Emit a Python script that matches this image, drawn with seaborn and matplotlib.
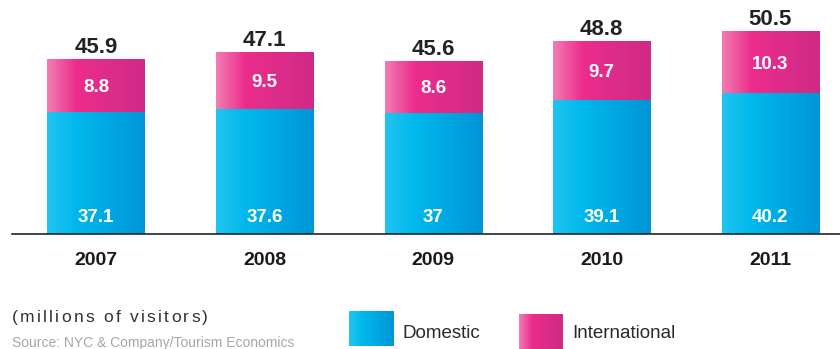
import numpy as np
import pandas as pd
import matplotlib
matplotlib.use("Agg")
import matplotlib.pyplot as plt
import seaborn as sns
from matplotlib.colors import LinearSegmentedColormap
from matplotlib.textpath import TextToPath
from matplotlib.font_manager import FontProperties

# ---- data ----
years = ["2007", "2008", "2009", "2010", "2011"]
domestic = [37.1, 37.6, 37.0, 39.1, 40.2]
international = [8.8, 9.5, 8.6, 9.7, 10.3]
totals = [45.9, 47.1, 45.6, 48.8, 50.5]
domestic_labels = ["37.1", "37.6", "37", "39.1", "40.2"]
international_labels = ["8.8", "9.5", "8.6", "9.7", "10.3"]
total_labels = ["45.9", "47.1", "45.6", "48.8", "50.5"]
series_names = ["Domestic", "International"]

sns.set_theme(style="white")
plt.rcParams["font.family"] = ["Liberation Sans", "DejaVu Sans"]

df = pd.DataFrame({"year": years, "domestic": domestic,
                   "international": international, "total": totals})

W, H = 840, 349
fig = plt.figure(figsize=(W / 100, H / 100), dpi=100)
ax = fig.add_axes([12 / W, (H - 233.5) / H, 828 / W, 233.5 / H])

bw = 0.576
sns.barplot(data=df, x="year", y="total", color="#ec2d8c", width=bw, ax=ax,
            saturation=1, errorbar=None, linewidth=0, edgecolor="none")
sns.barplot(data=df, x="year", y="domestic", color="#00b4ea", width=bw, ax=ax,
            saturation=1, errorbar=None, linewidth=0, edgecolor="none")

blue = LinearSegmentedColormap.from_list(
    "b", [(0, "#22c4f0"), (0.3, "#00b8ec"), (1, "#0095d7")])
pink = LinearSegmentedColormap.from_list(
    "p", [(0, "#f27db3"), (0.3, "#ec2d8c"), (1, "#cf2a86")])
grad = np.linspace(0, 1, 256).reshape(1, -1)

ylo, yhi = 17, 55.64
xlo, xhi = -0.4985, 4.415
patches = list(ax.patches)
for i, p in enumerate(patches):
    layer = 0 if i < 5 else 1
    cmap = pink if layer == 0 else blue
    p.set_zorder(1 + layer * 2)
    x0, w, y0, h = p.get_x(), p.get_width(), p.get_y(), p.get_height()
    im = ax.imshow(grad, cmap=cmap,
                   extent=[x0, x0 + w, max(y0, ylo), y0 + h],
                   aspect="auto", origin="lower", zorder=1.5 + layer * 2,
                   interpolation="bilinear")
    im.set_clip_path(p)

ax.set_xlim(xlo, xhi)
ax.set_ylim(ylo, yhi)

# labels
for i in range(len(years)):
    ax.annotate(total_labels[i], xy=(i, totals[i]), xytext=(0, 4.3),
                textcoords="offset points", ha="center", va="baseline",
                fontsize=16, fontweight="bold", color="#222222", zorder=6)
    ax.annotate(international_labels[i],
                xy=(i, domestic[i] + international[i] / 2), xytext=(0, -4.8),
                textcoords="offset points", ha="center", va="baseline",
                fontsize=13.5, fontweight="bold", color="white", zorder=6)
    ax.annotate(domestic_labels[i], xy=(i, 0), xycoords=ax.get_xaxis_transform(),
                xytext=(0, 8.3), textcoords="offset points", ha="center",
                va="baseline", fontsize=13.5, fontweight="bold", color="white",
                zorder=6)

ax.set_xlabel("")
ax.set_ylabel("")
ax.set_yticks([])
ax.set_xticks(range(len(years)))
ax.set_xticklabels(years, fontsize=14, fontweight="bold", color="#1a1a1a")
ax.tick_params(axis="x", length=0, pad=13.3)
for s in ["top", "left", "right"]:
    ax.spines[s].set_visible(False)
ax.spines["bottom"].set_color("#111111")
ax.spines["bottom"].set_linewidth(1.1)
ax.spines["bottom"].set_zorder(7)
ax.patch.set_alpha(0)


def spaced_text(x_px, y_px, s, size, spacing_px, **kw):
    prop = FontProperties(family="Liberation Sans", size=size)
    t2p = TextToPath()
    for k, ch in enumerate(s):
        if k == 0:
            adv = 0.0
        else:
            adv = t2p.get_text_width_height_descent(s[:k], prop, ismath=False)[0]
            adv = adv * 100 / 72
        fig.text((x_px + adv + k * spacing_px) / W, 1 - y_px / H, ch,
                 fontsize=size, va="baseline", ha="left",
                 family="Liberation Sans", **kw)


spaced_text(12, 322, "(millions of visitors)", 12.5, 2.3, color="#333333")
fig.text(12 / W, 1 - 347.5 / H, "Source: NYC & Company/Tourism Economics",
         fontsize=10, color="#a6a6a6", va="baseline", ha="left")

# legend swatches
for (x0, y0, x1, y1), cmap, name, tx in [((349, 311, 394, 346), blue, series_names[0], 403),
                                         ((519, 314, 563, 349), pink, series_names[1], 572)]:
    lax = fig.add_axes([x0 / W, 1 - y1 / H, (x1 - x0) / W, (y1 - y0) / H])
    lax.imshow(grad, cmap=cmap, aspect="auto", interpolation="bilinear")
    lax.set_axis_off()
    fig.text(tx / W, 1 - 337.5 / H, name, fontsize=13.5, color="#2a2a2a",
             va="baseline", ha="left")

fig.savefig("out.png", dpi=100, facecolor="white")
